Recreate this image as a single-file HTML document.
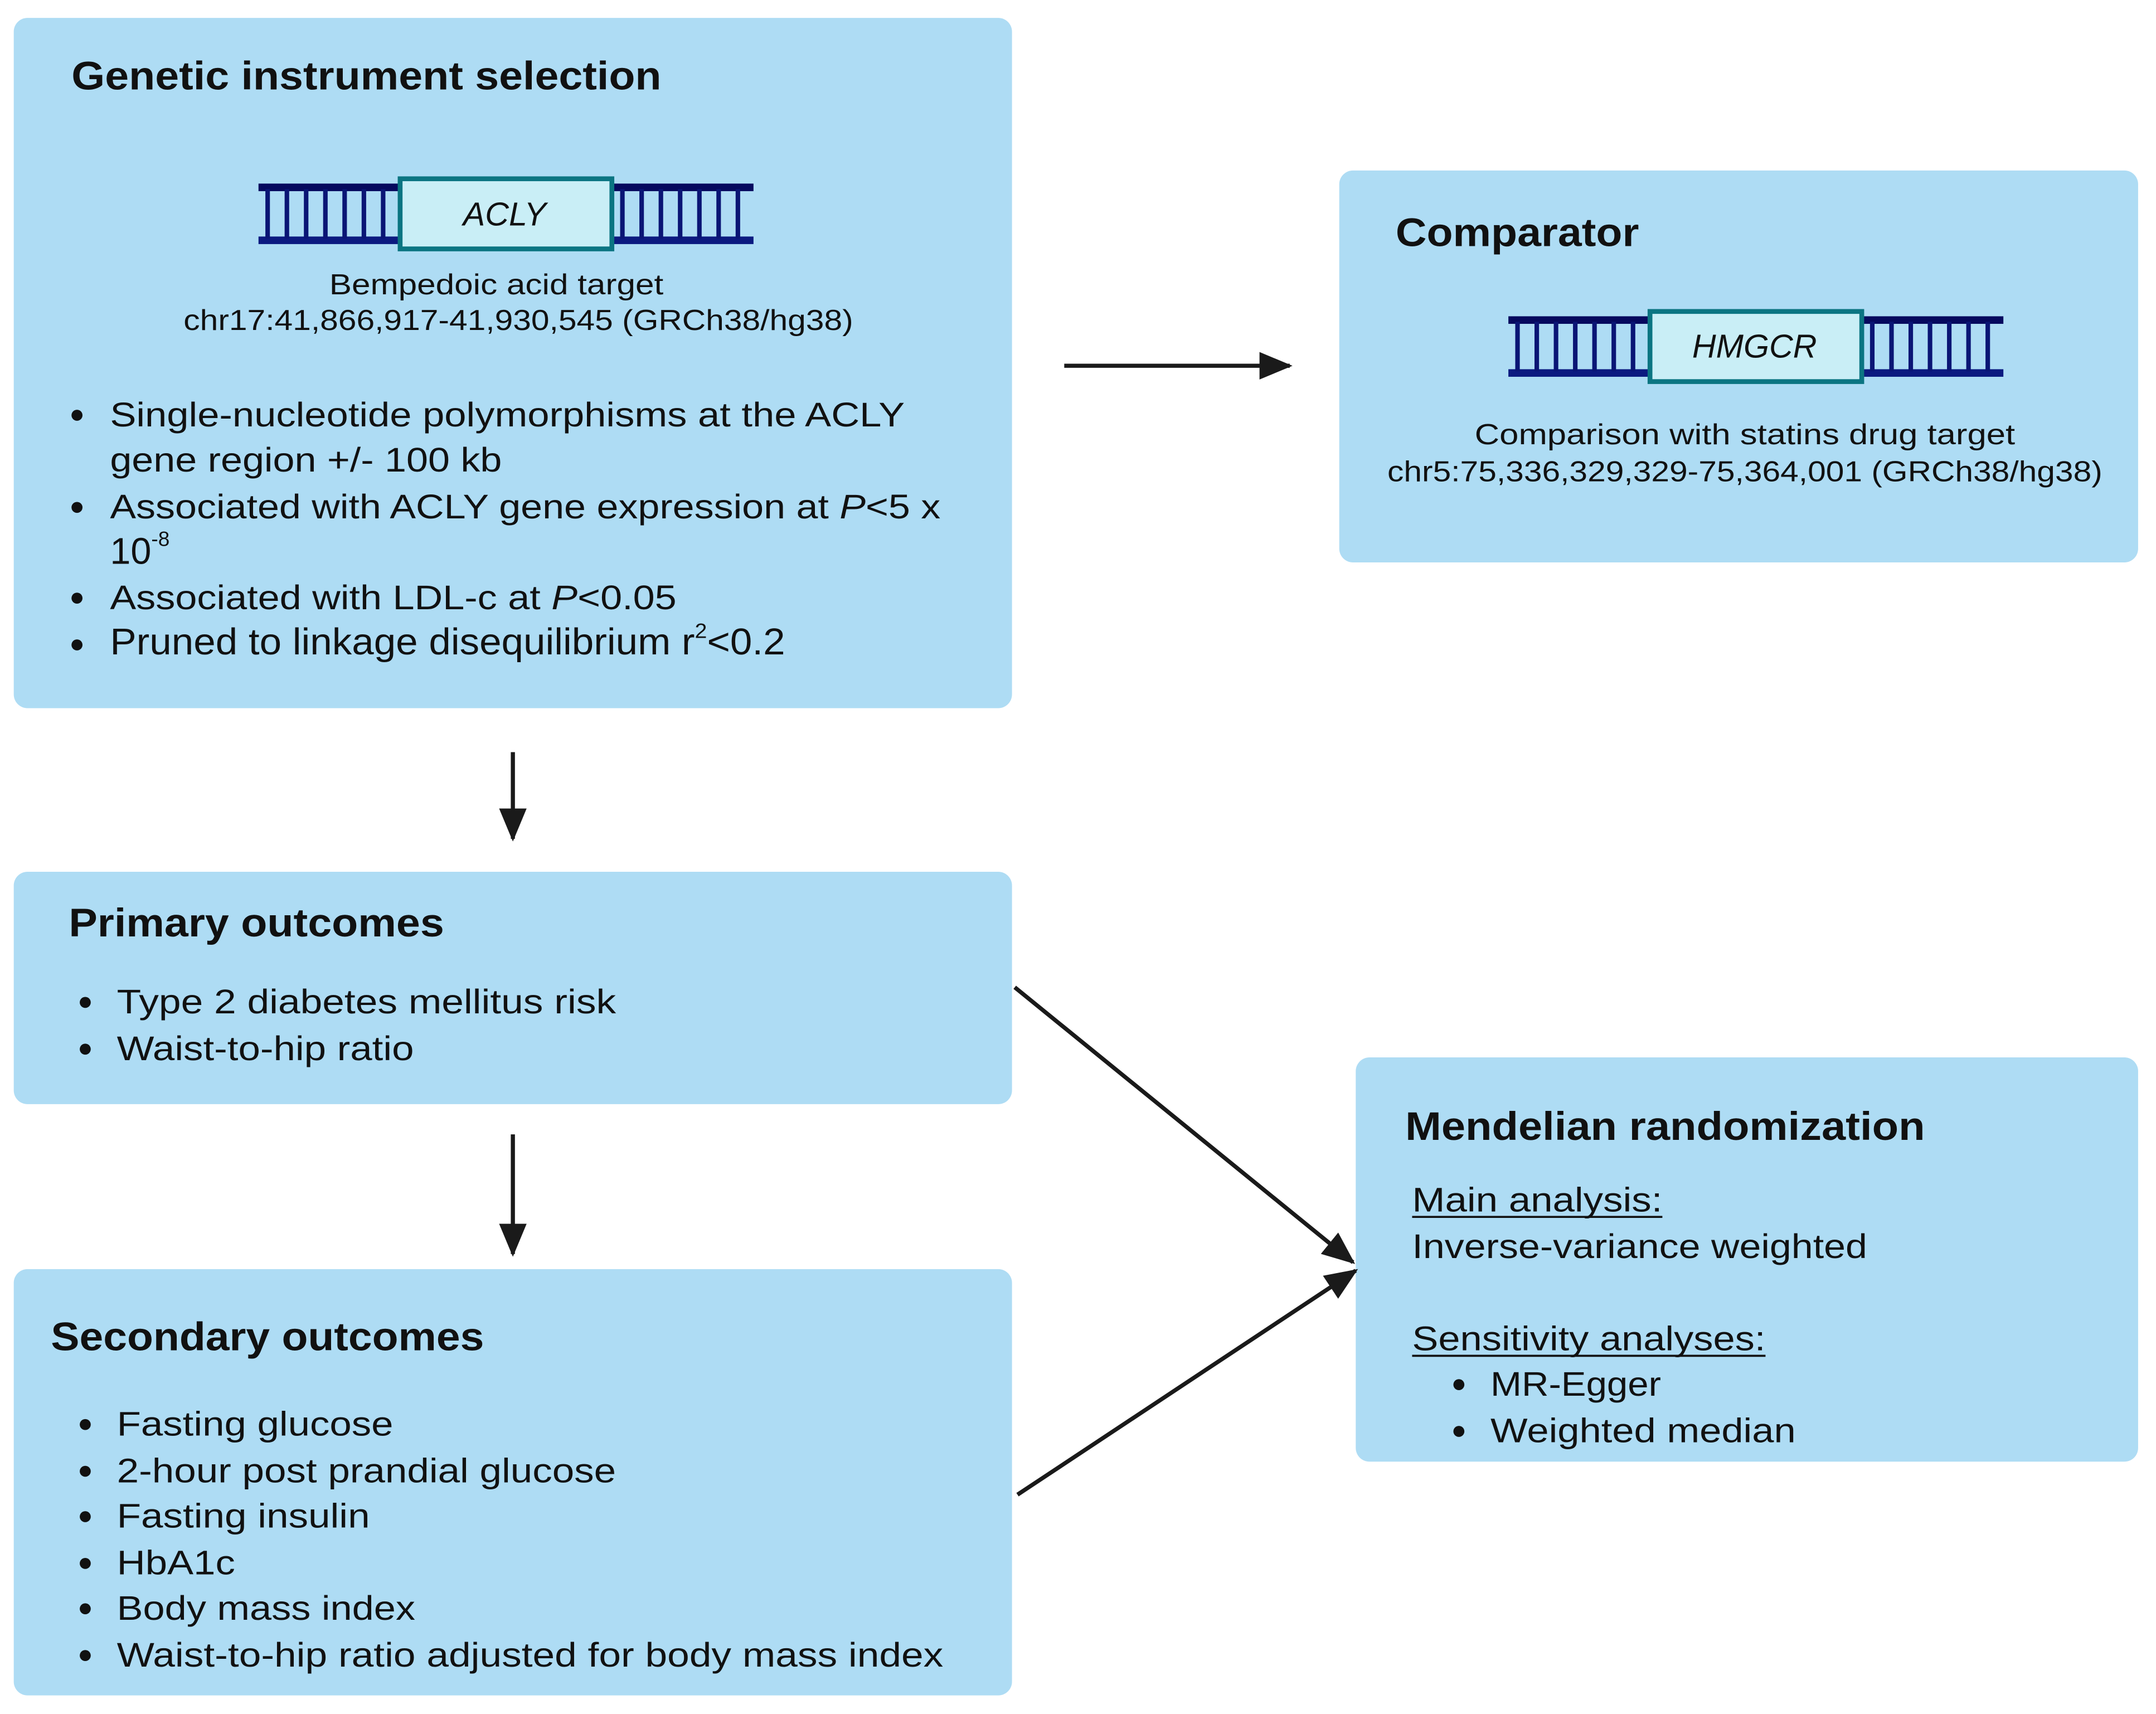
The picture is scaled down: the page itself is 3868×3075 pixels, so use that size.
<!DOCTYPE html>
<html><head><meta charset="utf-8"><style>
html,body{margin:0;padding:0;background:#fff;}
svg{display:block;}
text{font-family:"Liberation Sans",sans-serif;fill:#111;}
.t{font-weight:bold;font-size:29px;}
.b{font-size:25px;}
.s{font-size:21px;}
</style></head><body>
<svg width="3868" height="3075" viewBox="0 0 1568 1246.5" xmlns="http://www.w3.org/2000/svg">
<defs>
<marker id="ah2" markerWidth="24" markerHeight="20" refX="22" refY="10" orient="auto" markerUnits="userSpaceOnUse">
<path d="M0,0 L24,10 L0,20 Z" fill="#1a1a1a"/>
</marker>
<g id="ladder">
<rect x="0" y="0" width="102" height="5.5" fill="#06095e"/>
<rect x="0" y="38.5" width="102" height="5.5" fill="#0c1a80"/>
<g fill="#0a1575">
<rect x="5" y="4" width="3.3" height="36"/><rect x="19" y="4" width="3.3" height="36"/><rect x="33" y="4" width="3.3" height="36"/><rect x="47" y="4" width="3.3" height="36"/><rect x="61" y="4" width="3.3" height="36"/><rect x="75" y="4" width="3.3" height="36"/><rect x="89" y="4" width="3.3" height="36"/>
</g>
</g>
</defs>

<g fill="#aedcf4">
<rect x="10" y="13" width="726" height="502" rx="10"/>
<rect x="974" y="124" width="581" height="285" rx="10"/>
<rect x="10" y="634" width="726" height="169" rx="10"/>
<rect x="10" y="923" width="726" height="310" rx="10"/>
<rect x="986" y="769" width="569" height="294" rx="10"/>
</g>

<g stroke="#1a1a1a" stroke-width="3" fill="none">
<line x1="774" y1="266" x2="938" y2="266" marker-end="url(#ah2)"/>
<line x1="373" y1="547" x2="373" y2="610" marker-end="url(#ah2)"/>
<line x1="373" y1="825" x2="373" y2="912" marker-end="url(#ah2)"/>
<line x1="738" y1="718" x2="984" y2="918" marker-end="url(#ah2)"/>
<line x1="740" y1="1087" x2="986" y2="924" marker-end="url(#ah2)"/>
</g>

<text class="t" x="52" y="65" textLength="429" lengthAdjust="spacingAndGlyphs">Genetic instrument selection</text>
<use href="#ladder" x="188" y="133.5"/>
<use href="#ladder" x="446" y="133.5"/>
<rect x="291" y="130" width="154" height="51" fill="#c9eef6" stroke="#0b7582" stroke-width="3.5"/>
<text x="367" y="164" font-size="24" font-style="italic" text-anchor="middle">ACLY</text>
<text class="s" x="361" y="214" text-anchor="middle" textLength="243" lengthAdjust="spacingAndGlyphs">Bempedoic acid target</text>
<text class="s" x="377" y="240" text-anchor="middle" textLength="487" lengthAdjust="spacingAndGlyphs">chr17:41,866,917-41,930,545 (GRCh38/hg38)</text>
<g fill="#111">
<circle cx="56" cy="302" r="4"/><circle cx="56" cy="369" r="4"/><circle cx="56" cy="435" r="4"/><circle cx="56" cy="469" r="4"/>
</g>
<text class="b" x="80" y="310" textLength="578" lengthAdjust="spacingAndGlyphs">Single-nucleotide polymorphisms at the ACLY</text>
<text class="b" x="80" y="343" textLength="285" lengthAdjust="spacingAndGlyphs">gene region +/- 100 kb</text>
<text class="b" x="80" y="377" textLength="604" lengthAdjust="spacingAndGlyphs">Associated with ACLY gene expression at <tspan font-style="italic">P</tspan>&lt;5 x</text>
<text x="80" y="410" font-size="27">10<tspan font-size="15" dy="-13">-8</tspan></text>
<text class="b" x="80" y="443" textLength="412" lengthAdjust="spacingAndGlyphs">Associated with LDL-c at <tspan font-style="italic">P</tspan>&lt;0.05</text>
<text x="80" y="476" font-size="27" textLength="491" lengthAdjust="spacingAndGlyphs">Pruned to linkage disequilibrium r<tspan font-size="15" dy="-12">2</tspan><tspan dy="12">&lt;0.2</tspan></text>

<text class="t" x="1015" y="179" textLength="177" lengthAdjust="spacingAndGlyphs">Comparator</text>
<use href="#ladder" x="1097" y="230"/>
<use href="#ladder" x="1355" y="230"/>
<rect x="1200" y="226.5" width="154" height="51" fill="#c9eef6" stroke="#0b7582" stroke-width="3.5"/>
<text x="1276" y="260" font-size="24" font-style="italic" text-anchor="middle">HMGCR</text>
<text class="s" x="1269" y="323" text-anchor="middle" textLength="393" lengthAdjust="spacingAndGlyphs">Comparison with statins  drug target</text>
<text class="s" x="1269" y="350" text-anchor="middle" textLength="520" lengthAdjust="spacingAndGlyphs">chr5:75,336,329,329-75,364,001 (GRCh38/hg38)</text>

<text class="t" x="50" y="681" textLength="273" lengthAdjust="spacingAndGlyphs">Primary outcomes</text>
<circle cx="62" cy="729" r="4" fill="#111"/><circle cx="62" cy="763" r="4" fill="#111"/>
<text class="b" x="85" y="737" textLength="363" lengthAdjust="spacingAndGlyphs">Type 2 diabetes mellitus risk</text>
<text class="b" x="85" y="771" textLength="216" lengthAdjust="spacingAndGlyphs">Waist-to-hip ratio</text>

<text class="t" x="37" y="982" textLength="315" lengthAdjust="spacingAndGlyphs">Secondary outcomes</text>
<g fill="#111">
<circle cx="62" cy="1036" r="4"/><circle cx="62" cy="1070" r="4"/><circle cx="62" cy="1103" r="4"/><circle cx="62" cy="1137" r="4"/><circle cx="62" cy="1170" r="4"/><circle cx="62" cy="1204" r="4"/>
</g>
<text class="b" x="85" y="1044" textLength="201" lengthAdjust="spacingAndGlyphs">Fasting glucose</text>
<text class="b" x="85" y="1078" textLength="363" lengthAdjust="spacingAndGlyphs">2-hour post prandial glucose</text>
<text class="b" x="85" y="1111" textLength="184" lengthAdjust="spacingAndGlyphs">Fasting insulin</text>
<text class="b" x="85" y="1145" textLength="86" lengthAdjust="spacingAndGlyphs">HbA1c</text>
<text class="b" x="85" y="1178" textLength="217" lengthAdjust="spacingAndGlyphs">Body mass index</text>
<text class="b" x="85" y="1212" textLength="601" lengthAdjust="spacingAndGlyphs">Waist-to-hip ratio adjusted for body mass index</text>

<text class="t" x="1022" y="829" textLength="378" lengthAdjust="spacingAndGlyphs">Mendelian randomization</text>
<text class="b" x="1027" y="881" textLength="182" lengthAdjust="spacingAndGlyphs">Main analysis:</text>
<line x1="1027" y1="885" x2="1209" y2="885" stroke="#111" stroke-width="1.5"/>
<text class="b" x="1027" y="915" textLength="331" lengthAdjust="spacingAndGlyphs">Inverse-variance weighted</text>
<text class="b" x="1027" y="982" textLength="257" lengthAdjust="spacingAndGlyphs">Sensitivity analyses:</text>
<line x1="1027" y1="986" x2="1284" y2="986" stroke="#111" stroke-width="1.5"/>
<circle cx="1061" cy="1007" r="4" fill="#111"/><circle cx="1061" cy="1041" r="4" fill="#111"/>
<text class="b" x="1084" y="1015" textLength="124" lengthAdjust="spacingAndGlyphs">MR-Egger</text>
<text class="b" x="1084" y="1049" textLength="222" lengthAdjust="spacingAndGlyphs">Weighted median</text>
</svg>
</body></html>
